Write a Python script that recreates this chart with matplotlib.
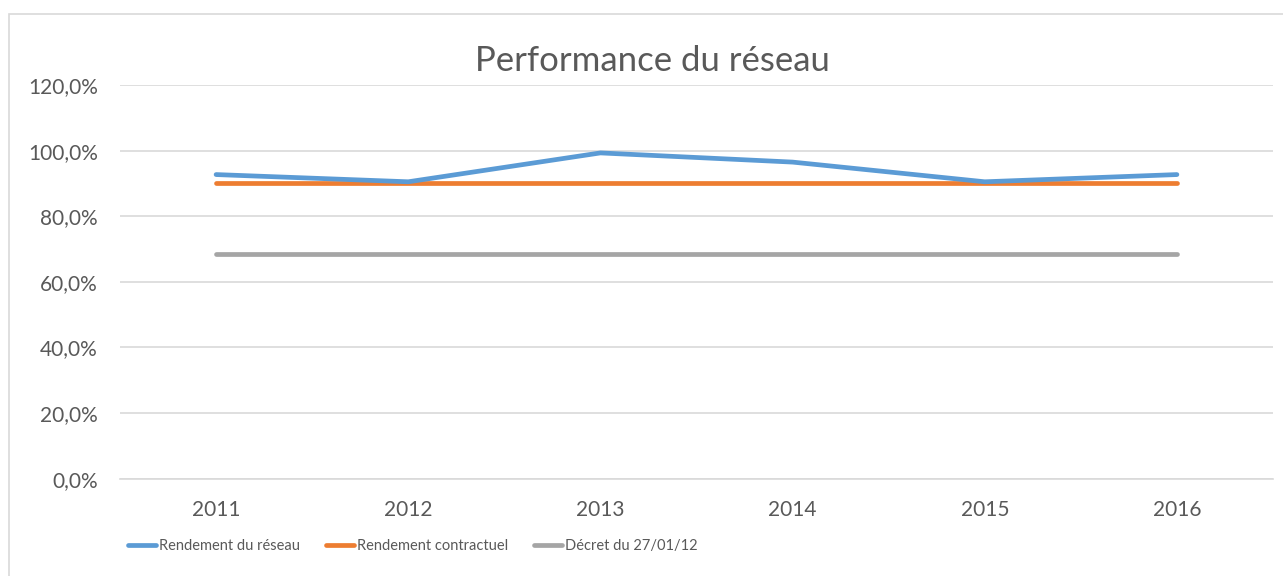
import matplotlib.pyplot as plt
from matplotlib.patches import Rectangle
from matplotlib.ticker import FuncFormatter

# data
years = ['2011', '2012', '2013', '2014', '2015', '2016']
rendement_reseau = [0.927, 0.905, 0.993, 0.965, 0.905, 0.927]
rendement_contractuel = [0.90, 0.90, 0.90, 0.90, 0.90, 0.90]
decret = [0.685, 0.685, 0.685, 0.685, 0.685, 0.685]

W, H = 1283, 576
plt.rcParams['font.family'] = ['Lato', 'DejaVu Sans']
txt = '#595959'

fig = plt.figure(figsize=(W / 100, H / 100), dpi=100)

# chart border
fig.patches.append(Rectangle((9 / W, -0.1), 1.2, (H - 14) / H + 0.1, transform=fig.transFigure,
                             fill=False, edgecolor='#d9d9d9', linewidth=1.2))

ax = fig.add_axes([120 / W, (H - 478.7) / H, (1273 - 120) / W, (478.7 - 85) / H])
x = range(len(years))
ax.plot(x, rendement_reseau, color='#5B9BD5', lw=3.4, solid_capstyle='round', solid_joinstyle='round',
        label='Rendement du réseau', zorder=3)
ax.plot(x, rendement_contractuel, color='#ED7D31', lw=3.4, solid_capstyle='round',
        label='Rendement contractuel', zorder=2)
ax.plot(x, decret, color='#A5A5A5', lw=3.4, solid_capstyle='round',
        label='Décret du 27/01/12', zorder=2)

ax.set_xlim(-0.5, len(years) - 0.5)
ax.set_ylim(0, 1.2)
ax.set_yticks([0, 0.2, 0.4, 0.6, 0.8, 1.0, 1.2])
ax.yaxis.set_major_formatter(FuncFormatter(lambda v, p: f'{v * 100:.1f}%'.replace('.', ',')))
ax.set_xticks(list(x))
ax.set_xticklabels(years)
ax.grid(axis='y', color='#d9d9d9', lw=1.2)
ax.set_axisbelow(True)
for s in ['top', 'right', 'left']:
    ax.spines[s].set_visible(False)
ax.spines['bottom'].set_color('#d9d9d9')
ax.spines['bottom'].set_linewidth(1.2)
ax.tick_params(length=0, labelsize=15, labelcolor=txt)
ax.tick_params(axis='y', pad=16)
ax.tick_params(axis='x', pad=15)

fig.text(652 / W, 1 - 61 / H, 'Performance du réseau', ha='center', va='center',
         fontsize=25, color=txt)

fig.legend(loc='center', bbox_to_anchor=(413 / W, 1 - 546 / H), ncol=3, frameon=False,
           fontsize=10.5, labelcolor=txt,
           handlelength=1.9, handletextpad=0.2, columnspacing=1.8)

fig.savefig('out.png', dpi=100)
